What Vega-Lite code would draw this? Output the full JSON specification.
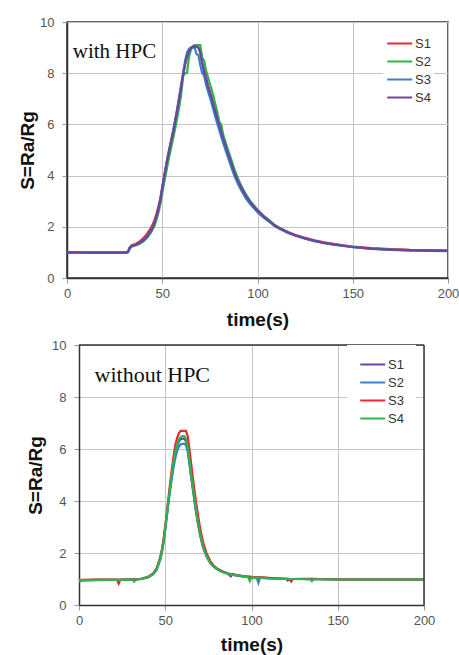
{
"$schema": "https://vega.github.io/schema/vega-lite/v6.json",
"background": "white",
"padding": {"left": 17, "top": 15, "right": 5, "bottom": 2},
"spacing": 9,
"config": {
 "view": {"stroke": "#333", "strokeWidth": 1.5},
 "axis": {"labelFont": "Liberation Sans", "labelFontSize": 13, "labelColor": "#555", "labelFlush": false, "titleFont": "Liberation Sans", "titleFontSize": 19, "titleFontWeight": "bold", "titleColor": "#111", "gridColor": "#c4c4c4", "gridWidth": 1, "gridOpacity": 1, "tickColor": "#999", "tickSize": 5, "domainColor": "#333", "domainWidth": 1.5},
 "legend": {"orient": "none", "symbolType": "M-1,0H3", "symbolSize": 156, "symbolStrokeWidth": 2, "labelFont": "Liberation Sans", "labelFontSize": 13, "labelColor": "#333", "labelOffset": 14, "rowPadding": 3, "fillColor": "white"}
},
"datasets": {
 "top": [
  {"t":0,"S1":1.0,"S2":0.99,"S3":0.98,"S4":1.0},
  {"t":5,"S1":1.0,"S2":0.99,"S3":0.98,"S4":1.0},
  {"t":10,"S1":1.0,"S2":0.99,"S3":0.98,"S4":0.99},
  {"t":20,"S1":1.0,"S2":0.99,"S3":0.98,"S4":0.99},
  {"t":30,"S1":1.0,"S2":0.99,"S3":0.98,"S4":0.99},
  {"t":31,"S1":1.0,"S2":0.99,"S3":0.98,"S4":1.0},
  {"t":32,"S1":1.03,"S2":1.0,"S3":1.02,"S4":1.02},
  {"t":33,"S1":1.2,"S2":1.15,"S3":1.2,"S4":1.18},
  {"t":34,"S1":1.28,"S2":1.22,"S3":1.26,"S4":1.25},
  {"t":36,"S1":1.33,"S2":1.27,"S3":1.3,"S4":1.3},
  {"t":38,"S1":1.42,"S2":1.33,"S3":1.37,"S4":1.37},
  {"t":40,"S1":1.55,"S2":1.42,"S3":1.48,"S4":1.47},
  {"t":42,"S1":1.72,"S2":1.56,"S3":1.63,"S4":1.62},
  {"t":44,"S1":1.95,"S2":1.76,"S3":1.85,"S4":1.83},
  {"t":45,"S1":2.1,"S2":1.9,"S3":2.0,"S4":1.98},
  {"t":46,"S1":2.28,"S2":2.05,"S3":2.17,"S4":2.15},
  {"t":47,"S1":2.52,"S2":2.28,"S3":2.42,"S4":2.4},
  {"t":48,"S1":2.8,"S2":2.55,"S3":2.72,"S4":2.7},
  {"t":49,"S1":3.12,"S2":2.88,"S3":3.08,"S4":3.05},
  {"t":50,"S1":3.55,"S2":3.3,"S3":3.52,"S4":3.5},
  {"t":51,"S1":3.98,"S2":3.72,"S3":3.98,"S4":3.95},
  {"t":52,"S1":4.38,"S2":4.1,"S3":4.4,"S4":4.35},
  {"t":53,"S1":4.78,"S2":4.5,"S3":4.8,"S4":4.75},
  {"t":54,"S1":5.12,"S2":4.85,"S3":5.15,"S4":5.1},
  {"t":55,"S1":5.47,"S2":5.2,"S3":5.5,"S4":5.45},
  {"t":56,"S1":5.82,"S2":5.55,"S3":5.86,"S4":5.8},
  {"t":57,"S1":6.22,"S2":5.92,"S3":6.26,"S4":6.2},
  {"t":58,"S1":6.62,"S2":6.3,"S3":6.68,"S4":6.6},
  {"t":59,"S1":7.06,"S2":6.72,"S3":7.12,"S4":7.05},
  {"t":60,"S1":7.5,"S2":7.2,"S3":7.6,"S4":7.5},
  {"t":61,"S1":7.95,"S2":7.9,"S3":8.05,"S4":7.95},
  {"t":62,"S1":8.35,"S2":8.0,"S3":8.5,"S4":8.35},
  {"t":63,"S1":8.65,"S2":8.0,"S3":8.8,"S4":8.65},
  {"t":64,"S1":8.85,"S2":8.6,"S3":8.95,"S4":8.85},
  {"t":65,"S1":8.98,"S2":8.9,"S3":9.0,"S4":8.98},
  {"t":66,"S1":9.03,"S2":9.05,"S3":9.0,"S4":9.03},
  {"t":67,"S1":9.05,"S2":9.1,"S3":9.0,"S4":9.05},
  {"t":68,"S1":9.05,"S2":9.1,"S3":8.75,"S4":9.04},
  {"t":69,"S1":9.0,"S2":9.1,"S3":8.7,"S4":9.0},
  {"t":70,"S1":8.8,"S2":9.1,"S3":8.3,"S4":8.8},
  {"t":71,"S1":8.4,"S2":8.6,"S3":8.0,"S4":8.4},
  {"t":72,"S1":8.08,"S2":8.5,"S3":7.9,"S4":8.05},
  {"t":73,"S1":7.82,"S2":8.1,"S3":7.55,"S4":7.8},
  {"t":74,"S1":7.52,"S2":7.85,"S3":7.3,"S4":7.5},
  {"t":75,"S1":7.27,"S2":7.6,"S3":7.05,"S4":7.25},
  {"t":76,"S1":7.02,"S2":7.35,"S3":6.8,"S4":7.0},
  {"t":77,"S1":6.74,"S2":7.05,"S3":6.52,"S4":6.72},
  {"t":78,"S1":6.47,"S2":6.75,"S3":6.25,"S4":6.45},
  {"t":79,"S1":6.22,"S2":6.45,"S3":6.0,"S4":6.2},
  {"t":80,"S1":5.97,"S2":6.1,"S3":5.75,"S4":5.95},
  {"t":81,"S1":5.72,"S2":6.0,"S3":5.5,"S4":5.7},
  {"t":82,"S1":5.47,"S2":5.6,"S3":5.27,"S4":5.45},
  {"t":84,"S1":5.02,"S2":5.12,"S3":4.82,"S4":5.0},
  {"t":86,"S1":4.57,"S2":4.68,"S3":4.38,"S4":4.55},
  {"t":88,"S1":4.12,"S2":4.22,"S3":3.96,"S4":4.1},
  {"t":90,"S1":3.77,"S2":3.85,"S3":3.63,"S4":3.75},
  {"t":92,"S1":3.47,"S2":3.53,"S3":3.35,"S4":3.45},
  {"t":94,"S1":3.22,"S2":3.26,"S3":3.1,"S4":3.2},
  {"t":96,"S1":3.0,"S2":3.03,"S3":2.9,"S4":2.98},
  {"t":98,"S1":2.82,"S2":2.84,"S3":2.73,"S4":2.8},
  {"t":100,"S1":2.65,"S2":2.66,"S3":2.57,"S4":2.63},
  {"t":103,"S1":2.44,"S2":2.44,"S3":2.37,"S4":2.42},
  {"t":106,"S1":2.26,"S2":2.26,"S3":2.2,"S4":2.24},
  {"t":109,"S1":2.07,"S2":2.07,"S3":2.03,"S4":2.05},
  {"t":112,"S1":1.94,"S2":1.93,"S3":1.9,"S4":1.92},
  {"t":116,"S1":1.8,"S2":1.79,"S3":1.76,"S4":1.78},
  {"t":120,"S1":1.68,"S2":1.66,"S3":1.65,"S4":1.66},
  {"t":125,"S1":1.57,"S2":1.55,"S3":1.54,"S4":1.55},
  {"t":130,"S1":1.47,"S2":1.45,"S3":1.44,"S4":1.45},
  {"t":135,"S1":1.39,"S2":1.37,"S3":1.36,"S4":1.37},
  {"t":140,"S1":1.33,"S2":1.31,"S3":1.3,"S4":1.31},
  {"t":145,"S1":1.28,"S2":1.26,"S3":1.25,"S4":1.26},
  {"t":150,"S1":1.23,"S2":1.21,"S3":1.2,"S4":1.21},
  {"t":160,"S1":1.17,"S2":1.15,"S3":1.14,"S4":1.15},
  {"t":170,"S1":1.13,"S2":1.11,"S3":1.1,"S4":1.11},
  {"t":180,"S1":1.1,"S2":1.09,"S3":1.07,"S4":1.09},
  {"t":190,"S1":1.09,"S2":1.07,"S3":1.06,"S4":1.07},
  {"t":200,"S1":1.08,"S2":1.06,"S3":1.05,"S4":1.06}
 ],
 "bottom": [
  {"t":0,"S1":0.95,"S2":0.9,"S3":0.97,"S4":0.96},
  {"t":2,"S1":0.96,"S2":0.95,"S3":0.97,"S4":0.96},
  {"t":10,"S1":0.97,"S2":0.96,"S3":0.98,"S4":0.97},
  {"t":20,"S1":0.97,"S2":0.97,"S3":0.98,"S4":0.97},
  {"t":22,"S1":0.97,"S2":0.97,"S3":0.98,"S4":0.97},
  {"t":23,"S1":0.97,"S2":0.97,"S3":0.82,"S4":0.97},
  {"t":24,"S1":0.97,"S2":0.97,"S3":0.98,"S4":0.97},
  {"t":31,"S1":0.98,"S2":0.98,"S3":0.98,"S4":0.98},
  {"t":32,"S1":0.98,"S2":0.98,"S3":0.98,"S4":0.9},
  {"t":33,"S1":0.98,"S2":0.98,"S3":0.98,"S4":0.98},
  {"t":36,"S1":1.0,"S2":1.0,"S3":1.01,"S4":1.0},
  {"t":40,"S1":1.07,"S2":1.06,"S3":1.08,"S4":1.07},
  {"t":43,"S1":1.2,"S2":1.18,"S3":1.22,"S4":1.2},
  {"t":45,"S1":1.38,"S2":1.35,"S3":1.42,"S4":1.38},
  {"t":47,"S1":1.75,"S2":1.72,"S3":1.82,"S4":1.76},
  {"t":48,"S1":2.05,"S2":2.0,"S3":2.12,"S4":2.05},
  {"t":49,"S1":2.45,"S2":2.4,"S3":2.52,"S4":2.45},
  {"t":50,"S1":2.95,"S2":2.9,"S3":3.05,"S4":2.95},
  {"t":51,"S1":3.5,"S2":3.45,"S3":3.62,"S4":3.52},
  {"t":52,"S1":4.05,"S2":4.0,"S3":4.2,"S4":4.08},
  {"t":53,"S1":4.6,"S2":4.5,"S3":4.78,"S4":4.62},
  {"t":54,"S1":5.1,"S2":4.95,"S3":5.3,"S4":5.12},
  {"t":55,"S1":5.55,"S2":5.35,"S3":5.8,"S4":5.6},
  {"t":56,"S1":5.9,"S2":5.7,"S3":6.2,"S4":5.95},
  {"t":57,"S1":6.15,"S2":5.95,"S3":6.45,"S4":6.2},
  {"t":58,"S1":6.3,"S2":6.1,"S3":6.62,"S4":6.38},
  {"t":59,"S1":6.38,"S2":6.18,"S3":6.7,"S4":6.47},
  {"t":60,"S1":6.4,"S2":6.2,"S3":6.7,"S4":6.5},
  {"t":61,"S1":6.4,"S2":6.2,"S3":6.7,"S4":6.5},
  {"t":62,"S1":6.3,"S2":6.15,"S3":6.7,"S4":6.4},
  {"t":63,"S1":6.0,"S2":5.9,"S3":6.5,"S4":6.1},
  {"t":64,"S1":5.5,"S2":5.45,"S3":6.0,"S4":5.6},
  {"t":65,"S1":4.95,"S2":4.95,"S3":5.45,"S4":5.05},
  {"t":66,"S1":4.45,"S2":4.5,"S3":4.9,"S4":4.55},
  {"t":67,"S1":3.95,"S2":4.05,"S3":4.38,"S4":4.05},
  {"t":68,"S1":3.5,"S2":3.6,"S3":3.9,"S4":3.6},
  {"t":69,"S1":3.1,"S2":3.2,"S3":3.45,"S4":3.18},
  {"t":70,"S1":2.75,"S2":2.85,"S3":3.05,"S4":2.82},
  {"t":71,"S1":2.45,"S2":2.55,"S3":2.7,"S4":2.5},
  {"t":72,"S1":2.2,"S2":2.3,"S3":2.4,"S4":2.25},
  {"t":74,"S1":1.85,"S2":1.92,"S3":1.98,"S4":1.88},
  {"t":76,"S1":1.62,"S2":1.68,"S3":1.7,"S4":1.64},
  {"t":78,"S1":1.47,"S2":1.5,"S3":1.52,"S4":1.48},
  {"t":80,"S1":1.38,"S2":1.4,"S3":1.4,"S4":1.38},
  {"t":83,"S1":1.28,"S2":1.3,"S3":1.29,"S4":1.27},
  {"t":86,"S1":1.22,"S2":1.22,"S3":1.21,"S4":1.2},
  {"t":88,"S1":1.1,"S2":1.19,"S3":1.18,"S4":1.17},
  {"t":89,"S1":1.18,"S2":1.18,"S3":1.17,"S4":1.16},
  {"t":92,"S1":1.14,"S2":1.14,"S3":1.13,"S4":1.13},
  {"t":95,"S1":1.11,"S2":1.11,"S3":1.1,"S4":1.1},
  {"t":98,"S1":1.08,"S2":1.08,"S3":1.08,"S4":1.07},
  {"t":99,"S1":1.08,"S2":1.08,"S3":1.08,"S4":0.92},
  {"t":100,"S1":1.07,"S2":1.07,"S3":1.08,"S4":1.06},
  {"t":103,"S1":1.06,"S2":1.06,"S3":1.06,"S4":1.05},
  {"t":104,"S1":1.06,"S2":0.85,"S3":1.06,"S4":1.05},
  {"t":105,"S1":1.05,"S2":1.05,"S3":1.06,"S4":1.04},
  {"t":110,"S1":1.03,"S2":1.03,"S3":1.04,"S4":1.02},
  {"t":115,"S1":1.02,"S2":1.02,"S3":1.02,"S4":1.01},
  {"t":120,"S1":1.01,"S2":1.01,"S3":1.01,"S4":1.0},
  {"t":121,"S1":0.94,"S2":1.01,"S3":1.01,"S4":1.0},
  {"t":122,"S1":1.0,"S2":1.0,"S3":1.0,"S4":1.0},
  {"t":123,"S1":1.0,"S2":1.0,"S3":0.9,"S4":1.0},
  {"t":124,"S1":1.0,"S2":1.0,"S3":1.0,"S4":1.0},
  {"t":130,"S1":1.0,"S2":1.0,"S3":1.01,"S4":0.99},
  {"t":134,"S1":0.99,"S2":0.99,"S3":1.01,"S4":0.99},
  {"t":135,"S1":0.99,"S2":0.99,"S3":1.01,"S4":0.92},
  {"t":136,"S1":0.99,"S2":0.99,"S3":1.01,"S4":0.99},
  {"t":140,"S1":0.99,"S2":0.99,"S3":1.0,"S4":0.99},
  {"t":150,"S1":0.98,"S2":0.98,"S3":0.98,"S4":0.98},
  {"t":175,"S1":0.98,"S2":0.98,"S3":0.98,"S4":0.98},
  {"t":200,"S1":0.98,"S2":0.98,"S3":0.98,"S4":0.98}
 ]
},
"resolve": {"scale": {"color": "independent", "x": "independent", "y": "independent"}, "legend": {"color": "independent"}},
"vconcat": [
 {
  "width": 381, "height": 256,
  "layer": [
   {
    "data": {"name": "top"},
    "transform": [{"fold": ["S1", "S2", "S3", "S4"], "as": ["series", "S"]}],
    "mark": {"type": "line", "strokeWidth": 2.2, "clip": true},
    "encoding": {
     "x": {"field": "t", "type": "quantitative", "scale": {"domain": [0, 200], "nice": false}, "axis": {"title": "time(s)", "values": [0, 50, 100, 150, 200], "labelPadding": 4, "titlePadding": 10}},
     "y": {"field": "S", "type": "quantitative", "scale": {"domain": [0, 10], "nice": false}, "axis": {"title": "S=Ra/Rg", "values": [0, 2, 4, 6, 8, 10], "labelPadding": 8, "titlePadding": 2}},
     "color": {"field": "series", "type": "nominal", "scale": {"domain": ["S1", "S2", "S3", "S4"], "range": ["#e8282e", "#2fb34d", "#3384c8", "#6e44a0"]}, "legend": {"title": null, "legendX": 316, "legendY": 11, "padding": 3}}
    }
   },
   {
    "data": {"values": [{"label": "with HPC"}]},
    "mark": {"type": "text", "font": "Liberation Serif", "fontSize": 21, "align": "left", "baseline": "alphabetic", "color": "#111"},
    "encoding": {"x": {"datum": 3, "type": "quantitative"}, "y": {"datum": 8.6, "type": "quantitative"}, "text": {"field": "label"}}
   }
  ]
 },
 {
  "width": 357, "height": 260,
  "view": {"stroke": null},
  "layer": [
   {
    "data": {"name": "bottom"},
    "transform": [{"fold": ["S1", "S2", "S3", "S4"], "as": ["series", "S"]}],
    "mark": {"type": "line", "strokeWidth": 2.2, "clip": true},
    "encoding": {
     "x": {"field": "t", "type": "quantitative", "scale": {"domain": [0, 200], "nice": false, "range": [12, 357]}, "axis": {"title": "time(s)", "values": [0, 50, 100, 150, 200], "labelPadding": 4, "titlePadding": 8}},
     "y": {"field": "S", "type": "quantitative", "scale": {"domain": [0, 10], "nice": false}, "axis": {"title": "S=Ra/Rg", "values": [0, 2, 4, 6, 8, 10], "labelPadding": 8, "titlePadding": 6, "offset": -12}},
     "color": {"field": "series", "type": "nominal", "scale": {"domain": ["S1", "S2", "S3", "S4"], "range": ["#6e44a0", "#3384c8", "#e8282e", "#2fb34d"]}, "legend": {"title": null, "legendX": 280, "legendY": 0, "padding": 12}}
    }
   },
   {
    "data": {"values": [{"label": "without HPC"}]},
    "mark": {"type": "text", "font": "Liberation Serif", "fontSize": 22, "align": "left", "baseline": "alphabetic", "color": "#111"},
    "encoding": {"x": {"datum": 9, "type": "quantitative"}, "y": {"datum": 8.56, "type": "quantitative"}, "text": {"field": "label"}}
   },
   {
    "data": {"values": [{"edge": "top"}]},
    "mark": {"type": "rule", "color": "#333", "strokeWidth": 1.5},
    "encoding": {"x": {"datum": 0, "type": "quantitative"}, "x2": {"datum": 200}, "y": {"datum": 10, "type": "quantitative"}}
   },
   {
    "data": {"values": [{"edge": "right"}]},
    "mark": {"type": "rule", "color": "#333", "strokeWidth": 1.5},
    "encoding": {"x": {"datum": 200, "type": "quantitative"}, "y": {"datum": 0, "type": "quantitative"}, "y2": {"datum": 10}}
   }
  ]
 }
]
}
